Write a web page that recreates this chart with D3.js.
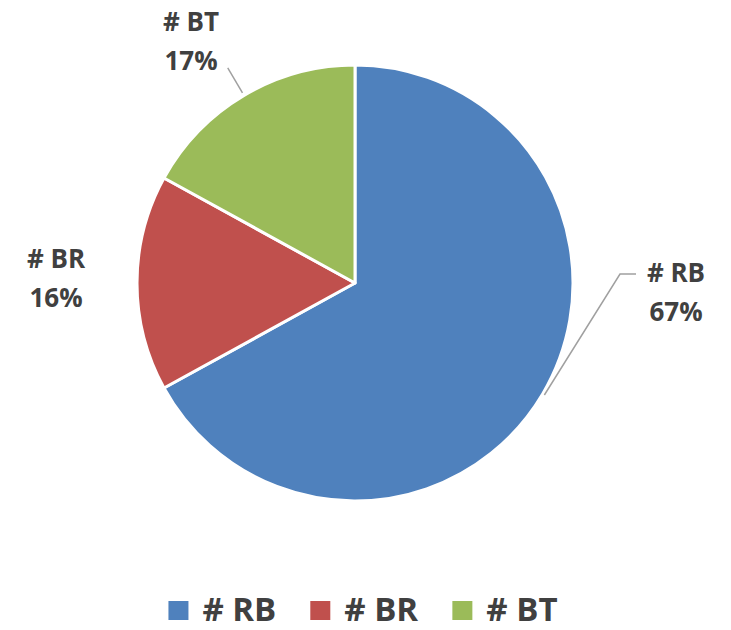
<!DOCTYPE html>
<html>
<head>
<meta charset="utf-8">
<script src="https://cdn.jsdelivr.net/npm/d3@7"></script>
<style>
  body { margin: 0; background: #fff; }
  svg { display: block; font-family: "Open Sans", "Liberation Sans", sans-serif; }
</style>
</head>
<body>
<div id="chart"></div>
<script>
var categories = ["# RB", "# BR", "# BT"];
var values = [67, 16, 17];
var colors = ["#4f81bd", "#c0504d", "#9bbb59"];

var width = 731, height = 630;
var cx = 355, cy = 283, radius = 218;
var textColor = "#404040";

var svg = d3.select("#chart")
  .append("svg")
  .attr("width", width)
  .attr("height", height);

var pie = d3.pie().sort(null).value(function(d) { return d; });
var arc = d3.arc().innerRadius(0).outerRadius(radius);
var arcs = pie(values);

var g = svg.append("g").attr("transform", "translate(" + cx + "," + cy + ")");

g.selectAll("path")
  .data(arcs)
  .enter()
  .append("path")
  .attr("d", arc)
  .attr("fill", function(d, i) { return colors[i]; })
  .attr("stroke", "#fff")
  .attr("stroke-width", 3)
  .attr("stroke-linejoin", "round");

// point on the rim at the middle of a slice
function rim(d, r) {
  var a = (d.startAngle + d.endAngle) / 2;
  return [Math.sin(a) * r, -Math.cos(a) * r];
}

// data labels (positions relative to pie center)
var labelPos = [
  { x: 321, y: -1, elbow: [265, -9, 281, -9] },
  { x: -299, y: -15 },
  { x: -164, y: -252, tip: 247 }
];

var line = g.append("g")
  .attr("fill", "none")
  .attr("stroke", "#a0a0a0")
  .attr("stroke-width", 1.5);

arcs.forEach(function(d, i) {
  var p = labelPos[i];
  if (p.elbow) {
    var s = rim(d, radius + 2);
    line.append("polyline")
      .attr("points", [s, [p.elbow[0], p.elbow[1]], [p.elbow[2], p.elbow[3]]].map(function(q) { return q.join(","); }).join(" "));
  } else if (p.tip) {
    var a = rim(d, radius + 3), b = rim(d, p.tip + 3);
    line.append("line")
      .attr("x1", a[0]).attr("y1", a[1])
      .attr("x2", b[0]).attr("y2", b[1]);
  }
  var t = g.append("text")
    .attr("text-anchor", "middle")
    .attr("fill", textColor)
    .attr("font-weight", "bold")
    .attr("font-size", 26);
  t.append("tspan").attr("x", p.x).attr("y", p.y).text(categories[i]);
  t.append("tspan").attr("x", p.x).attr("y", p.y + 39)
    .text(Math.round(d.data / d3.sum(values) * 100) + "%");
});

// legend
var legend = svg.append("g");
var items = legend.selectAll("g")
  .data(categories)
  .enter()
  .append("g");

items.append("rect")
  .attr("width", 20).attr("height", 19)
  .attr("y", -20)
  .attr("fill", function(d, i) { return colors[i]; });

items.append("text")
  .attr("x", 34)
  .attr("y", 0)
  .attr("fill", textColor)
  .attr("font-weight", "bold")
  .attr("font-size", 33)
  .text(function(d) { return d; });

var xs = 0;
items.each(function() {
  var w = this.getBBox().width;
  d3.select(this).attr("transform", "translate(" + xs + ",0)");
  xs += w + 34;
});
var total = xs - 34;
legend.attr("transform", "translate(" + (363 - total / 2) + ",621)");
</script>
</body>
</html>
